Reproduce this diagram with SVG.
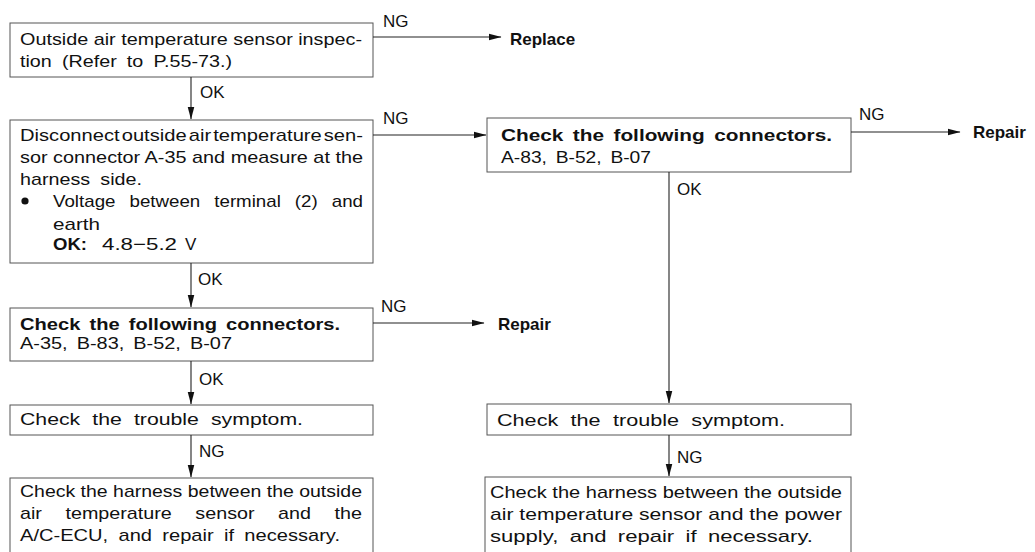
<svg xmlns="http://www.w3.org/2000/svg" width="1035" height="552" viewBox="0 0 1035 552">
  <defs>
    <marker id="ah" markerWidth="13" markerHeight="8" refX="12.5" refY="4" orient="auto" markerUnits="userSpaceOnUse">
      <path d="M0,0.6 L13,4 L0,7.4 z" fill="#111"/>
    </marker>
  </defs>
  <style>
    .box{fill:#fff;stroke:#555;stroke-width:1}
    .t{font-family:"Liberation Sans",Arial,Helvetica,sans-serif;font-size:17px;fill:#111}
    .b{font-weight:bold}
    .ln{stroke:#222;stroke-width:1.1;fill:none}
  </style>
  <rect width="1035" height="552" fill="#fff"/>

  <!-- left column -->
  <g id="n1">
    <rect class="box" x="10" y="23" width="363" height="54"/>
    <text class="t" x="20" y="45" textLength="342" lengthAdjust="spacingAndGlyphs">Outside air temperature sensor inspec-</text>
    <text class="t" x="20" y="67" textLength="212" lengthAdjust="spacingAndGlyphs" word-spacing="4">tion (Refer to P.55-73.)</text>
  </g>

  <g id="n2">
    <rect class="box" x="10" y="120" width="363" height="143"/>
    <text class="t" x="20" y="141" textLength="343" lengthAdjust="spacingAndGlyphs" word-spacing="-3">Disconnect outside air temperature sen-</text>
    <text class="t" x="20" y="163" textLength="343" lengthAdjust="spacingAndGlyphs">sor connector A-35 and measure at the</text>
    <text class="t" x="20" y="185" textLength="122" lengthAdjust="spacingAndGlyphs" word-spacing="4">harness side.</text>
    <circle cx="25" cy="201" r="3.6" fill="#111"/>
    <text class="t" x="53" y="207" textLength="310" lengthAdjust="spacingAndGlyphs" word-spacing="8">Voltage between terminal (2) and</text>
    <text class="t" x="53" y="230" textLength="47" lengthAdjust="spacingAndGlyphs">earth</text>
    <text class="t b" x="53" y="250" textLength="34" lengthAdjust="spacingAndGlyphs">OK:</text>
    <text class="t" x="102" y="250" textLength="75" lengthAdjust="spacingAndGlyphs">4.8−5.2</text>
    <text class="t" x="185" y="250">V</text>
  </g>

  <g id="n3">
    <rect class="box" x="10" y="308" width="363" height="53"/>
    <text class="t b" x="20" y="330" textLength="320" lengthAdjust="spacingAndGlyphs" word-spacing="3">Check the following connectors.</text>
    <text class="t" x="20" y="349" textLength="212" lengthAdjust="spacingAndGlyphs" word-spacing="3">A-35, B-83, B-52, B-07</text>
  </g>

  <g id="n4">
    <rect class="box" x="10" y="405" width="363" height="30"/>
    <text class="t" x="20" y="425" textLength="283" lengthAdjust="spacingAndGlyphs" word-spacing="5">Check the trouble symptom.</text>
  </g>

  <g id="n8">
    <rect class="box" x="10" y="478" width="363" height="100"/>
    <text class="t" x="20" y="497" textLength="342" lengthAdjust="spacingAndGlyphs">Check the harness between the outside</text>
    <text class="t" x="20" y="519" textLength="342" lengthAdjust="spacingAndGlyphs" word-spacing="15.6">air temperature sensor and the</text>
    <text class="t" x="20" y="541" textLength="320" lengthAdjust="spacingAndGlyphs" word-spacing="4">A/C-ECU, and repair if necessary.</text>
  </g>

  <!-- right column -->
  <g id="n5">
    <rect class="box" x="487" y="118" width="364" height="54"/>
    <text class="t b" x="501" y="141" textLength="331" lengthAdjust="spacingAndGlyphs" word-spacing="3">Check the following connectors.</text>
    <text class="t" x="501" y="163" textLength="150" lengthAdjust="spacingAndGlyphs" word-spacing="3">A-83, B-52, B-07</text>
  </g>

  <g id="n6">
    <rect class="box" x="487" y="404" width="364" height="31"/>
    <text class="t" x="497" y="426" textLength="288" lengthAdjust="spacingAndGlyphs" word-spacing="5">Check the trouble symptom.</text>
  </g>

  <g id="n7">
    <rect class="box" x="485" y="477" width="366" height="100"/>
    <text class="t" x="490" y="498" textLength="352" lengthAdjust="spacingAndGlyphs">Check the harness between the outside</text>
    <text class="t" x="490" y="520" textLength="352" lengthAdjust="spacingAndGlyphs">air temperature sensor and the power</text>
    <text class="t" x="490" y="542" textLength="323" lengthAdjust="spacingAndGlyphs" word-spacing="4">supply, and repair if necessary.</text>
  </g>

  <!-- terminal actions -->
  <g id="r1"><text class="t b" x="510" y="45">Replace</text></g>
  <g id="r2"><text class="t b" x="498" y="330">Repair</text></g>
  <g id="r3"><text class="t b" x="973" y="138">Repair</text></g>

  <!-- connectors -->
  <g id="connectors">
    <path class="ln" d="M373,37 H501" marker-end="url(#ah)"/>
    <path class="ln" d="M191,77 V119" marker-end="url(#ah)"/>
    <path class="ln" d="M373,135 H486" marker-end="url(#ah)"/>
    <path class="ln" d="M191,263 V307" marker-end="url(#ah)"/>
    <path class="ln" d="M373,323 H484" marker-end="url(#ah)"/>
    <path class="ln" d="M191,361 V404" marker-end="url(#ah)"/>
    <path class="ln" d="M191,435 V477" marker-end="url(#ah)"/>
    <path class="ln" d="M851,132 H960" marker-end="url(#ah)"/>
    <path class="ln" d="M669,172 V403" marker-end="url(#ah)"/>
    <path class="ln" d="M669,435 V476" marker-end="url(#ah)"/>

    <text class="t" x="383" y="27">NG</text>
    <text class="t" x="200" y="98">OK</text>
    <text class="t" x="383" y="124">NG</text>
    <text class="t" x="198" y="285">OK</text>
    <text class="t" x="381" y="312">NG</text>
    <text class="t" x="199" y="385">OK</text>
    <text class="t" x="199" y="457">NG</text>
    <text class="t" x="859" y="120">NG</text>
    <text class="t" x="677" y="195">OK</text>
    <text class="t" x="677" y="463">NG</text>
  </g>
</svg>
